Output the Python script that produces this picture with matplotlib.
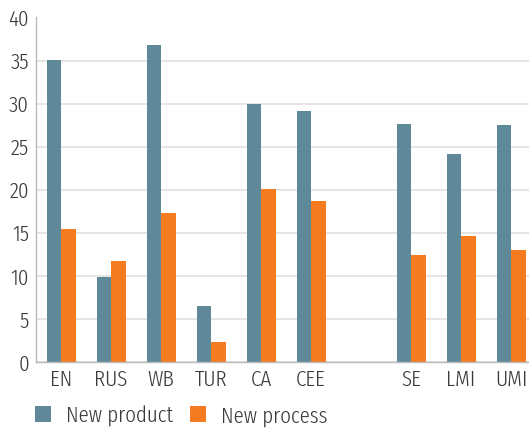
import matplotlib
matplotlib.use("Agg")
import matplotlib.pyplot as plt
from matplotlib import font_manager
import numpy as np

categories = ["EN", "RUS", "WB", "TUR", "CA", "CEE", "", "SE", "LMI", "UMI"]
new_product = [35.1, 9.9, 36.8, 6.5, 30.0, 29.2, np.nan, 27.7, 24.2, 27.5]
new_process = [15.5, 11.7, 17.3, 2.3, 20.1, 18.7, np.nan, 12.5, 14.6, 13.0]
series_names = ["New product", "New process"]
yticks = [0, 5, 10, 15, 20, 25, 30, 35, 40]

names = {f.name for f in font_manager.fontManager.ttflist}
fam = [n for n in ["Fira Sans Extra Condensed", "Fira Sans Condensed",
                   "Liberation Sans Narrow"] if n in names] + ["DejaVu Sans"]
plt.rcParams["font.family"] = fam
plt.rcParams["font.weight"] = 300 if fam[0].startswith("Fira") else "normal"
fs = 16.5

teal = "#5f8999"
orange = "#f47b20"
txt = "#3a3a3a"

fig = plt.figure(figsize=(5.29, 4.32), dpi=100)
ax = fig.add_axes([36/529, 1-362.3/432, (536-36)/529, (362.3-17.5)/432])

x = np.arange(len(categories))
w = 0.29
ax.bar(x - w/2, new_product, w, color=teal, label=series_names[0], zorder=3,
       linewidth=0)
ax.bar(x + w/2, new_process, w, color=orange, label=series_names[1], zorder=3,
       linewidth=0)

ax.set_xlim(-0.5, 9.5)
ax.set_ylim(0, 40)
ax.set_yticks(yticks)
ax.set_xticks([i for i, c in enumerate(categories) if c])
ax.set_xticklabels([c for c in categories if c])
ax.tick_params(axis="both", length=0, labelsize=fs, colors=txt)
ax.tick_params(axis="y", pad=5)
ax.tick_params(axis="x", pad=5)
ax.grid(axis="y", color="#dedede", linewidth=1.1, zorder=0)
for s in ["top", "right"]:
    ax.spines[s].set_visible(False)
for s in ["left", "bottom"]:
    ax.spines[s].set_color("#bbbbbb")
    ax.spines[s].set_linewidth(1.0)
    ax.spines[s].set_zorder(4)

leg = ax.legend(loc="center left", bbox_to_anchor=(35/529, 1-416/432),
                bbox_transform=fig.transFigure, ncol=2, frameon=False,
                fontsize=fs, handlelength=0.7, handleheight=0.7,
                handletextpad=0.65, columnspacing=0.75, borderpad=0,
                borderaxespad=0)
for t in leg.get_texts():
    t.set_color(txt)

fig.savefig("out.png", dpi=100)
